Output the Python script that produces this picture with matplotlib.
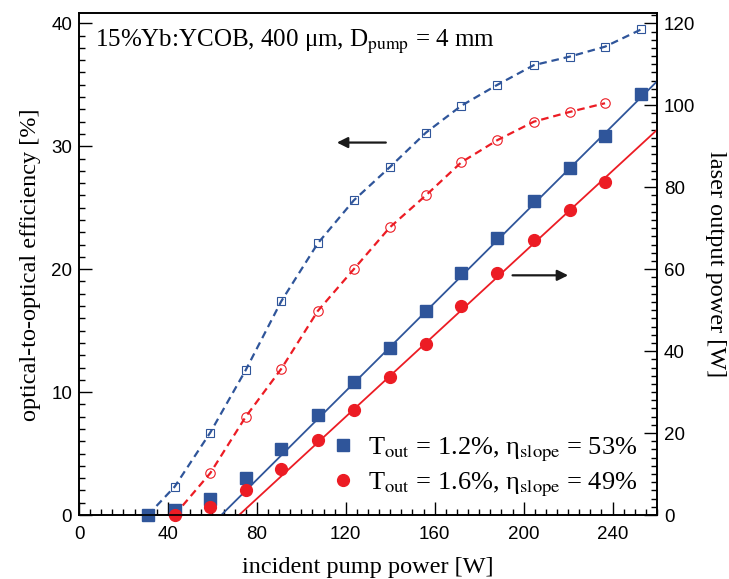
import matplotlib; matplotlib.use("Agg")
import matplotlib.pyplot as plt
from matplotlib.lines import Line2D
from matplotlib.ticker import MultipleLocator
import numpy as np

plt.rcParams["font.family"] = ["Liberation Serif", "DejaVu Serif"]
plt.rcParams["mathtext.fontset"] = "stix"

BLUE = "#2F559A"
RED = "#EC1C24"

# incident pump power [W]
P_BLUE = [31, 43, 59, 75, 91, 107.4, 123.6, 139.8, 156, 172, 188.2, 204.6, 220.9, 236.6, 252.8]
P_RED = [43, 59, 75, 91, 107.4, 123.6, 139.8, 156, 172, 188.2, 204.6, 220.9, 236.6]
# optical-to-optical efficiency [%]
EFF_BLUE = [0, 2.3, 6.7, 11.8, 17.4, 22.1, 25.6, 28.3, 31.1, 33.3, 35.0, 36.6, 37.3, 38.1, 39.5]
EFF_RED = [0, 3.4, 8.0, 11.9, 16.6, 20.0, 23.4, 26.0, 28.7, 30.5, 32.0, 32.8, 33.5]
# laser output power [W]
OUT_BLUE = [0, 1.2, 3.9, 9.1, 16.1, 24.4, 32.5, 40.7, 49.9, 59.0, 67.7, 76.7, 84.6, 92.5, 102.8]
OUT_RED = [0, 2.0, 6.2, 11.2, 18.4, 25.6, 33.7, 41.8, 51.0, 59.1, 67.1, 74.5, 81.3]
# linear fits: slope, threshold [W]
FIT_BLUE = (0.54, 64.0)
FIT_RED = (0.50, 72.0)
LABELS = [r"T$_{\rm out}$ = 1.2%, η$_{\rm slope}$ = 53%",
          r"T$_{\rm out}$ = 1.6%, η$_{\rm slope}$ = 49%"]

XMAX = 260
fig = plt.figure(figsize=(7.29, 5.79), dpi=100)
ax = fig.add_axes([0.1084, 0.1105, 0.7929, 0.8662])
ax2 = ax.twinx()

dash = (0, (3.4, 2.2))
ax.plot(P_BLUE, EFF_BLUE, color=BLUE, lw=1.6, ls=dash, marker="s", ms=6.3,
        mfc="none", mec=BLUE, mew=0.8, clip_on=False)
ax.plot(P_RED, EFF_RED, color=RED, lw=1.6, ls=dash, marker="o", ms=6.8,
        mfc="none", mec=RED, mew=0.8, clip_on=False)

for (s, x0), col in ((FIT_BLUE, BLUE), (FIT_RED, RED)):
    xs = np.array([x0, XMAX])
    ax2.plot(xs, s * (xs - x0), color=col, lw=1.3)
ax2.plot(P_BLUE, OUT_BLUE, ls="none", marker="s", ms=8.5, color=BLUE, clip_on=False)
ax2.plot(P_RED, OUT_RED, ls="none", marker="o", ms=8.5, color=RED, clip_on=False)

ax.set_xlim(0, XMAX)
ax.set_ylim(0, 40.8)
ax2.set_ylim(0, 122.4)

sans = "Liberation Sans"
ax.xaxis.set_major_locator(MultipleLocator(40))
ax.xaxis.set_minor_locator(MultipleLocator(5))
ax.yaxis.set_major_locator(MultipleLocator(10))
ax.yaxis.set_minor_locator(MultipleLocator(1))
ax2.yaxis.set_major_locator(MultipleLocator(20))
ax2.yaxis.set_minor_locator(MultipleLocator(2))
ax.tick_params(axis="both", which="both", direction="in", top=False, right=False)
ax.tick_params(which="major", length=9.5, width=1.0)
ax.tick_params(which="minor", length=4.5, width=1.0)
ax.tick_params(axis="x", pad=8)
ax.tick_params(axis="y", pad=5)
ax2.tick_params(axis="y", which="both", direction="in", pad=5)
ax2.tick_params(which="major", length=9.5, width=1.0)
ax2.tick_params(which="minor", length=4.5, width=1.0)
for a in (ax, ax2):
    for lab in a.get_xticklabels() + a.get_yticklabels():
        lab.set_family(sans)
        lab.set_fontsize(13.5)
    for sp in a.spines.values():
        sp.set_linewidth(1.2)

ax.set_xlabel("incident pump power [W]", fontsize=17.5, labelpad=10)
ax.set_ylabel("optical-to-optical efficiency [%]", fontsize=17.5, labelpad=7)
ax2.set_ylabel("laser output power [W]", fontsize=17.5, rotation=270, labelpad=22)

ax.text(0.027, 0.972, r"15%Yb:YCOB, 400 μm, D$_{\rm pump}$ = 4 mm", transform=ax.transAxes,
        fontsize=18, ha="left", va="top")

arr = dict(arrowstyle="-|>", color="#1a1a1a", lw=1.6, mutation_scale=16, shrinkA=0, shrinkB=0)
ax.annotate("", xy=(116, 30.3), xytext=(138, 30.3), arrowprops=arr)
ax.annotate("", xy=(220, 19.5), xytext=(195, 19.5), arrowprops=arr)

handles = [Line2D([], [], ls="none", marker="s", ms=8.5, color=BLUE),
           Line2D([], [], ls="none", marker="o", ms=8.5, color=RED)]
ax2.legend(handles, LABELS, loc="lower right", bbox_to_anchor=(0.993, 0.0), frameon=False,
           fontsize=19, handletextpad=0.45, labelspacing=0.25, handlelength=1.0,
           borderaxespad=0.2)

fig.savefig("out.png", dpi=100, facecolor="white")
